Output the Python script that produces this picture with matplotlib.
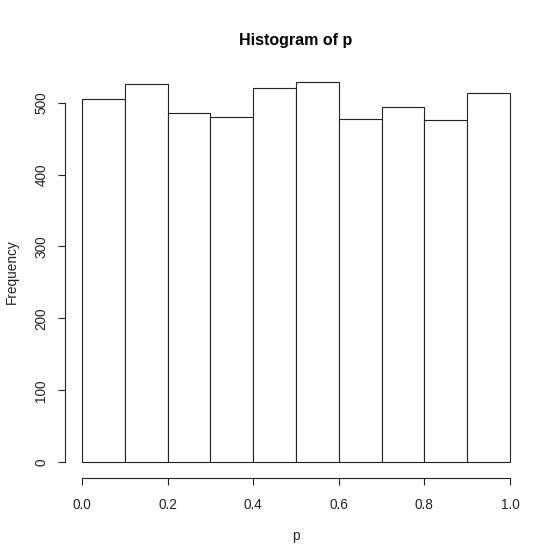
import matplotlib.pyplot as plt

# histogram of p, bins of width 0.1 on [0, 1]
bin_edges = [0.0, 0.1, 0.2, 0.3, 0.4, 0.5, 0.6, 0.7, 0.8, 0.9, 1.0]
counts = [505, 526, 485, 480, 520, 529, 477, 494, 476, 514]
x_ticks = [0.0, 0.2, 0.4, 0.6, 0.8, 1.0]
y_ticks = [0, 100, 200, 300, 400, 500]

plt.rcParams['font.family'] = ['Liberation Sans', 'DejaVu Sans']

fig = plt.figure(figsize=(5.6, 5.59), dpi=100)
ax = fig.add_axes([65 / 560, (559 - 477.5) / 559, 462 / 560, 411 / 559])

ax.hist(bin_edges[:-1], bins=bin_edges, weights=counts,
        facecolor='white', edgecolor='#222222', linewidth=0.8)

ymax = max(counts)
ax.set_xlim(-0.04, 1.04)
ax.set_ylim(-0.04 * ymax, 1.04 * ymax)

for side in ('top', 'right'):
    ax.spines[side].set_visible(False)
ax.spines['left'].set_bounds(0, 500)
ax.spines['bottom'].set_bounds(0, 1)
for side in ('left', 'bottom'):
    ax.spines[side].set_linewidth(0.8)
    ax.spines[side].set_color('#222222')

ax.set_xticks(x_ticks, labels=[f"{t:.1f}" for t in x_ticks])
ax.set_yticks(y_ticks, labels=[str(t) for t in y_ticks])
ax.tick_params(axis='both', length=5, width=0.8, color='#222222',
               labelsize=9.8, labelcolor='#222222')
ax.tick_params(axis='x', pad=9.5)
ax.tick_params(axis='y', pad=7)
plt.setp(ax.get_yticklabels(), rotation=90, va='center')

ax.set_xlabel("p", fontsize=9.8, labelpad=12.5, color='#222222')
ax.set_ylabel("Frequency", fontsize=9.8, labelpad=11, color='#222222')
fig.text(296 / 560, 1 - 40 / 559, "Histogram of p", ha='center', va='center',
         fontsize=11.5, fontweight='bold')

fig.savefig("out.png", dpi=100)
